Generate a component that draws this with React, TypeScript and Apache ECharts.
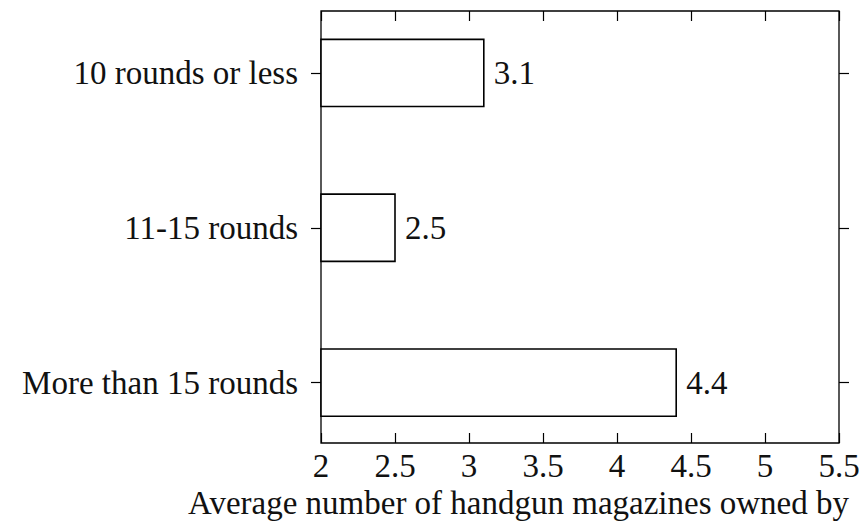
import React, { useEffect, useRef } from "react";
import * as echarts from "echarts";

const categories = ["10 rounds or less", "11-15 rounds", "More than 15 rounds"];
const values = [3.1, 2.5, 4.4];
const xTicks = [2, 2.5, 3, 3.5, 4, 4.5, 5, 5.5];
const xTitle = "Average number of handgun magazines owned by";

const FONT = "'Liberation Serif', 'DejaVu Serif', serif";
const FS = 33;

export default function App() {
  const ref = useRef<HTMLDivElement>(null);
  useEffect(() => {
    if (!ref.current) return;
    const chart = echarts.init(ref.current, null, { renderer: "svg" });
    const catIdx = categories.map((_, i) => i);
    const option: any = {
      animation: false,
      backgroundColor: "#fff",
      textStyle: { fontFamily: FONT },
      grid: {
        left: 321,
        right: 20,
        top: 11,
        bottom: 78,
        show: true,
        borderColor: "#000",
        borderWidth: 1.3,
        backgroundColor: "transparent",
        containLabel: false,
        outerBoundsMode: "none",
      },
      graphic: [
        {
          type: "text",
          x: 849,
          y: 503,
          style: {
            text: xTitle,
            fontFamily: FONT,
            fontSize: FS,
            fill: "#111",
            align: "right",
            verticalAlign: "middle",
          },
        },
      ],
      xAxis: [
        {
          type: "value",
          position: "bottom",
          min: xTicks[0],
          max: xTicks[xTicks.length - 1],
          interval: 0.5,
          splitLine: { show: false },
          axisLine: { show: false, onZero: false },
          axisTick: { show: true, inside: true, length: 10, lineStyle: { color: "#000", width: 1.2 } },
          axisLabel: {
            show: true,
            margin: 6,
            fontFamily: FONT,
            fontSize: FS,
            color: "#111",
            formatter: (v: number) => String(v),
          },
        },
        {
          type: "value",
          position: "top",
          min: xTicks[0],
          max: xTicks[xTicks.length - 1],
          interval: 0.5,
          splitLine: { show: false },
          axisLine: { show: false, onZero: false },
          axisTick: { show: true, inside: true, length: 10, lineStyle: { color: "#000", width: 1.2 } },
          axisLabel: { show: false },
        },
      ],
      yAxis: [
        {
          type: "value",
          position: "left",
          inverse: true,
          min: -0.4,
          max: 2.39,
          splitLine: { show: false },
          axisLine: { show: false, onZero: false },
          axisTick: { show: true, inside: false, length: 10, customValues: catIdx, lineStyle: { color: "#000", width: 1.2 } },
          axisLabel: {
            show: true,
            margin: 23,
            customValues: catIdx,
            fontFamily: FONT,
            fontSize: FS,
            color: "#111",
            formatter: (v: number) => categories[Math.round(v)] ?? "",
          },
        },
        {
          type: "value",
          position: "right",
          inverse: true,
          min: -0.4,
          max: 2.39,
          splitLine: { show: false },
          axisLine: { show: false, onZero: false },
          axisTick: { show: true, inside: false, length: 10, customValues: catIdx, lineStyle: { color: "#000", width: 1.2 } },
          axisLabel: { show: false },
        },
      ],
      series: [
        {
          type: "custom",
          xAxisIndex: 0,
          yAxisIndex: 0,
          encode: { x: 0, y: 1 },
          data: values.map((v, i) => [v, i]),
          renderItem: (params: any, api: any) => {
            const v = api.value(0);
            const i = api.value(1);
            const p0 = api.coord([xTicks[0], i - 0.217]);
            const p1 = api.coord([v, i + 0.217]);
            const c = api.coord([v, i]);
            const y = Math.min(p0[1], p1[1]);
            const h = Math.abs(p1[1] - p0[1]);
            return {
              type: "group",
              children: [
                {
                  type: "rect",
                  shape: { x: p0[0], y, width: p1[0] - p0[0], height: h },
                  style: { fill: "#fff", stroke: "#000", lineWidth: 1.6 },
                },
                {
                  type: "text",
                  x: c[0] + 10,
                  y: c[1],
                  style: {
                    text: String(v),
                    fontFamily: FONT,
                    fontSize: FS,
                    fill: "#111",
                    align: "left",
                    verticalAlign: "middle",
                  },
                },
              ],
            };
          },
        },
      ],
    };
    chart.setOption(option);
    return () => chart.dispose();
  }, []);
  return (
    <div
      ref={ref}
      style={{ position: "fixed", left: 0, top: 0, width: 859, height: 521, background: "#fff" }}
    />
  );
}
